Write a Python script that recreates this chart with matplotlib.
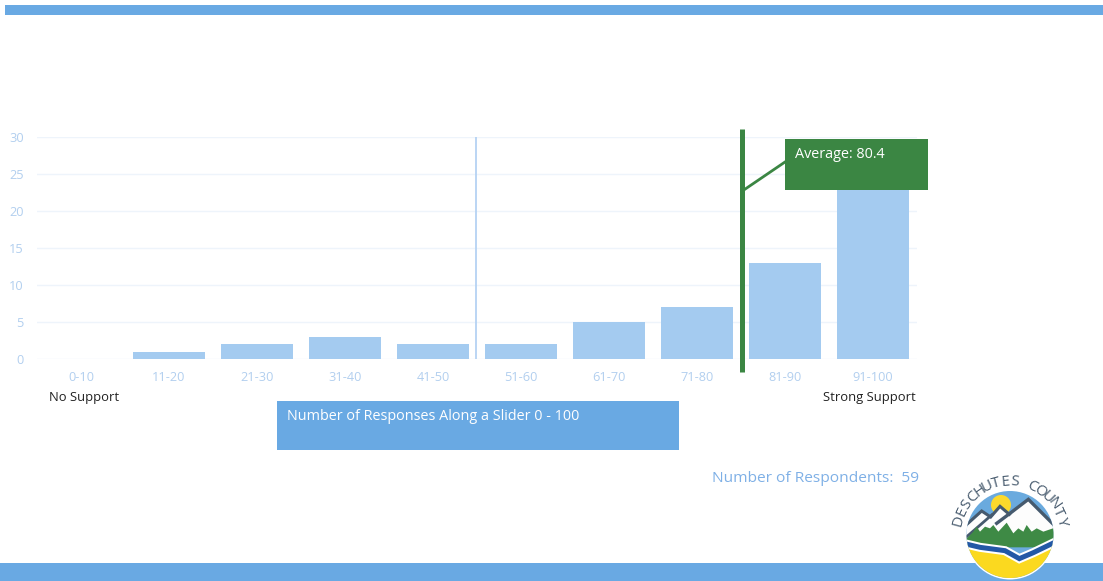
# -*- coding: utf-8 -*-
# slider responses chart with average marker
import numpy as np
import matplotlib
matplotlib.use('Agg')
import matplotlib.pyplot as plt
from matplotlib.patches import Rectangle, Circle, Polygon

plt.rcParams['font.family'] = ['Open Sans', 'DejaVu Sans']

# data
categories = ['0-10', '11-20', '21-30', '31-40', '41-50',
              '51-60', '61-70', '71-80', '81-90', '91-100']
responses = [0, 1, 2, 3, 2, 2, 5, 7, 13, 24]
y_ticks = [0, 5, 10, 15, 20, 25, 30]
midpoint_pos = 4.49   # slider value 50, between the 41-50 and 51-60 bars
average_pos = 7.515   # slider value 80.4 on the category axis
average_label = 'Average: 80.4'
respondents_label = 'Number of Respondents:  59'
slider_label = 'Number of Responses Along a Slider 0 - 100'

W, H = 1103, 581
BLUE = '#69a9e3'
BAR = '#a4cbf0'
TICK = '#b2cfef'
GRID = '#eef4fb'
GREEN = '#3b8643'

fig = plt.figure(figsize=(W / 100, H / 100), dpi=100, facecolor='white')

# chart axes: x from 37 to 917 px, y 0 at 359 px and 30 at 137 px
ax = fig.add_axes([37 / W, 1 - 359 / H, 880 / W, 222 / H])
ax.set_xlim(-0.5, 9.5)
ax.set_ylim(0, 30)
ax.patch.set_alpha(0)
ax.bar(range(len(categories)), responses, width=0.81, color=BAR, zorder=2)
ax.set_yticks(y_ticks)
ax.set_xticks(range(len(categories)))
ax.set_xticklabels(categories)
ax.tick_params(axis='both', length=0, labelsize=9.2, labelcolor=TICK)
ax.tick_params(axis='x', pad=8.5)
ax.tick_params(axis='y', pad=9.5)
ax.grid(axis='y', color=GRID, linewidth=1)
ax.set_axisbelow(True)
for s in ax.spines.values():
    s.set_visible(False)
ax.axvline(midpoint_pos, color='#b5d2f3', linewidth=1.3, zorder=3)

# overlay in pixel coordinates for everything outside the plot
ov = fig.add_axes([0, 0, 1, 1], zorder=5)
ov.set_xlim(0, W)
ov.set_ylim(H, 0)
ov.axis('off')
ov.patch.set_alpha(0)

ov.add_patch(Rectangle((5, 5), W - 5, 10, color=BLUE, lw=0))
ov.add_patch(Rectangle((0, 563), W, 18, color=BLUE, lw=0))

# average marker; x comes from the chart axes
avg_x = ax.transData.transform((average_pos, 0))[0]
ov.plot([avg_x, avg_x], [129, 372], color=GREEN, lw=3.6, solid_capstyle='butt')
ov.plot([avg_x, 785], [191, 162], color=GREEN, lw=2)
ov.add_patch(Rectangle((785, 139), 143, 51, color=GREEN, lw=0))
ov.text(795, 154.5, average_label, color='white', fontsize=10.4, va='center')

ov.text(49, 397.5, 'No Support', color='#222222', fontsize=9.4, va='center')
ov.text(916, 397.5, 'Strong Support', color='#222222', fontsize=9.4, va='center', ha='right')

ov.add_patch(Rectangle((277, 401), 402, 49, color=BLUE, lw=0))
ov.text(287, 416, slider_label, color='white', fontsize=10.35, va='center')
ov.text(919, 478, respondents_label, color='#7fb0e6', fontsize=11.15, va='center', ha='right')

# county logo, outline points measured on a 3x crop starting at (930, 460)
def crop(points):
    return [(930 + x / 3, 460 + y / 3) for x, y in points]


cx, cy, r = 1010, 534.5, 43.5
ov.add_patch(Circle((cx, cy), r + 1.5, color='white', lw=0))
sky = Circle((cx, cy), r, color='#6aaade', lw=0)
ov.add_patch(sky)


def clipped(points, color, z=1):
    p = Polygon(crop(points), closed=True, color=color, lw=0, zorder=6 + z)
    ov.add_patch(p)
    p.set_clip_path(sky)
    return p


def ridge(points, color, lw, z):
    xs, ys = zip(*crop(points))
    line = ov.plot(xs, ys, color=color, lw=lw, zorder=z, solid_joinstyle='miter')[0]
    line.set_clip_path(sky)
    return line


ov.add_patch(Circle((1001, 505), 10, color='#fcd92c', lw=0, zorder=6))
clipped([(108, 200), (155, 155), (182, 172), (210, 140), (240, 165),
         (295, 118), (372, 200), (372, 260), (108, 260)], '#fdfdfd', 1)
ridge([(105, 198), (155, 153), (182, 171), (210, 139), (238, 163)], '#465a6e', 2.2, 8)
ridge([(108, 232), (185, 165)], '#465a6e', 2.0, 8)
ridge([(200, 190), (240, 160), (295, 118), (372, 195)], '#465a6e', 2.4, 8)
clipped([(108, 238), (130, 215), (140, 200), (150, 215), (165, 200), (180, 205),
         (190, 195), (205, 215), (230, 188), (250, 220), (265, 205), (280, 215),
         (290, 195), (305, 215), (320, 205), (340, 215), (375, 203),
         (375, 262), (108, 262)], '#3e8a45', 2)
clipped([(100, 255), (170, 265), (225, 275), (270, 295), (310, 280), (380, 248),
         (380, 360), (100, 360)], '#fbd91f', 2)
river_pts = [(108, 252), (150, 262), (225, 272), (268, 296), (310, 278), (372, 248)]
ridge(river_pts, 'white', 6.5, 9)
ridge(river_pts, '#2358a6', 3.6, 10)

# curved county name round the top of the logo
logo_text = 'DESCHUTES COUNTY'
angles = np.linspace(-75, 75, len(logo_text))
for ch, a in zip(logo_text, angles):
    rad = np.deg2rad(a)
    ov.text(cx + 53 * np.sin(rad), cy - 53 * np.cos(rad), ch, rotation=-a,
            rotation_mode='anchor', ha='center', va='center',
            fontsize=11, color='#4a5d70', zorder=11)

fig.savefig('out.png', dpi=100)
